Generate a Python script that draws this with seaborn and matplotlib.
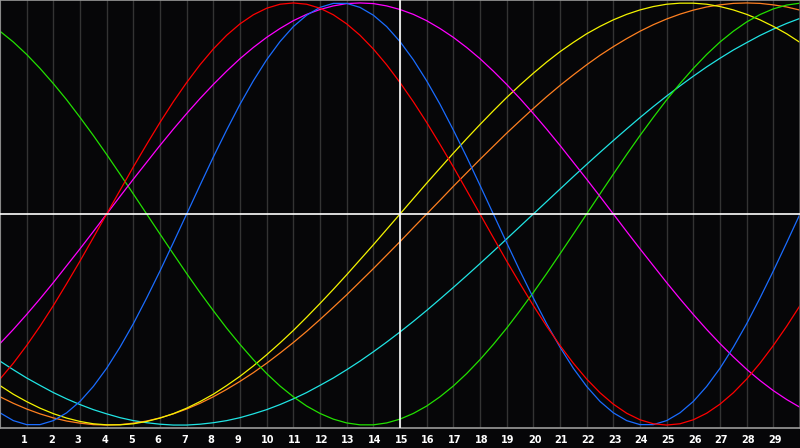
import pandas as pd
import matplotlib
matplotlib.use("Agg")
import matplotlib.pyplot as plt
import matplotlib.transforms as mtransforms
import seaborn as sns

# day positions (half-day steps, 0..30)
days = [i * 0.5 for i in range(61)]
# curve values (x1000)
blue = [-942,-979,-998,-998,-979,-942,-888,-817,-731,-631,-520,-398,-270,-136,0,136,270,398,520,631,731,817,888,942,979,998,998,979,942,888,817,731,631,520,398,270,136,0,-136,-270,-398,-520,-631,-731,-817,-888,-942,-979,-998,-998,-979,-942,-888,-817,-731,-631,-520,-398,-270,-136,0]
red = [-782,-707,-623,-532,-434,-330,-223,-112,0,112,223,330,434,532,623,707,782,847,901,944,975,994,1000,994,975,944,901,847,782,707,623,532,434,330,223,112,0,-112,-223,-330,-434,-532,-623,-707,-782,-847,-901,-944,-975,-994,-1000,-994,-975,-944,-901,-847,-782,-707,-623,-532,-434]
green = [866,815,756,690,618,541,458,372,282,189,95,0,-95,-189,-282,-372,-458,-541,-618,-690,-756,-815,-866,-910,-945,-972,-990,-999,-999,-990,-972,-945,-910,-866,-815,-756,-690,-618,-541,-458,-372,-282,-189,-95,0,95,189,282,372,458,541,618,690,756,815,866,910,945,972,990,999]
magenta = [-614,-547,-476,-402,-325,-245,-165,-83,0,83,165,245,325,402,476,547,614,677,736,789,837,879,916,946,969,986,997,1000,997,986,969,946,916,879,837,789,736,677,614,547,476,402,325,245,165,83,0,-83,-165,-245,-325,-402,-476,-547,-614,-677,-736,-789,-837,-879,-916]
yellow = [-813,-854,-889,-920,-946,-967,-983,-994,-999,-999,-994,-983,-967,-946,-920,-889,-854,-813,-769,-720,-667,-611,-552,-489,-424,-357,-288,-217,-146,-73,0,73,146,217,288,357,424,489,552,611,667,720,769,813,854,889,920,946,967,983,994,999,999,994,983,967,946,920,889,854,813]
orange = [-866,-897,-924,-947,-966,-981,-991,-998,-1000,-998,-991,-981,-966,-947,-924,-897,-866,-831,-793,-752,-707,-659,-609,-556,-500,-442,-383,-321,-259,-195,-131,-65,0,65,131,195,259,321,383,442,500,556,609,659,707,752,793,831,866,897,924,947,966,981,991,998,1000,998,991,981,966]
cyan = [-697,-738,-777,-812,-846,-876,-903,-927,-947,-965,-979,-989,-996,-1000,-1000,-996,-989,-979,-965,-947,-927,-903,-876,-846,-812,-777,-738,-697,-653,-607,-559,-509,-457,-403,-348,-292,-235,-177,-118,-59,0,59,118,177,235,292,348,403,457,509,559,607,653,697,738,777,812,846,876,903,927]
tick_days = list(range(1, 30))
grid_days = list(range(0, 31))
today = 15

BG = "#060608"
sns.set_theme(style="dark")
fig = plt.figure(figsize=(8, 4.48), dpi=100, facecolor=BG)
ax = fig.add_axes([0, 20/448, 1, 428/448])
ax.set_facecolor(BG)
for d in grid_days:
    ax.axvline(d, color="#333333", lw=1.0, zorder=0)

series = [("cyan", cyan, "#20e4e4"), ("orange", orange, "#ff8020"),
          ("yellow", yellow, "#f4f400"), ("green", green, "#22e000"),
          ("magenta", magenta, "#ff00ff"), ("blue", blue, "#1a6cff"),
          ("red", red, "#ff0000")]
for name, vals, col in series:
    df = pd.DataFrame({"day": days, "v": [x / 1000 for x in vals]})
    sns.lineplot(data=df, x="day", y="v", color=col, lw=0.9, ax=ax, zorder=2)

ax.axhline(0, color="white", lw=1.2, zorder=3)
ax.axvline(today, color="white", lw=1.2, zorder=3)
ax.set_xlim(0, 30)
ax.set_ylim(-1.014, 1.014)
ax.set_yticks([])
ax.set_xlabel("")
ax.set_ylabel("")
ax.set_xticks(tick_days)
ax.set_xticklabels([str(t) for t in tick_days], color="white", fontsize=7,
                   fontweight="bold", family="DejaVu Sans", ha="left")
ax.tick_params(axis="x", length=0, pad=5)
off = mtransforms.ScaledTranslation(-5.5 / 100, 0, fig.dpi_scale_trans)
for lab in ax.get_xticklabels():
    lab.set_transform(lab.get_transform() + off)
ax.grid(False)
for s in ["top", "left", "bottom", "right"]:
    ax.spines[s].set_visible(True)
    ax.spines[s].set_color("#9a9a9a")
    ax.spines[s].set_linewidth(1.2)
ax.spines["right"].set_color("#555555")
fig.savefig("out.png", facecolor=BG)
